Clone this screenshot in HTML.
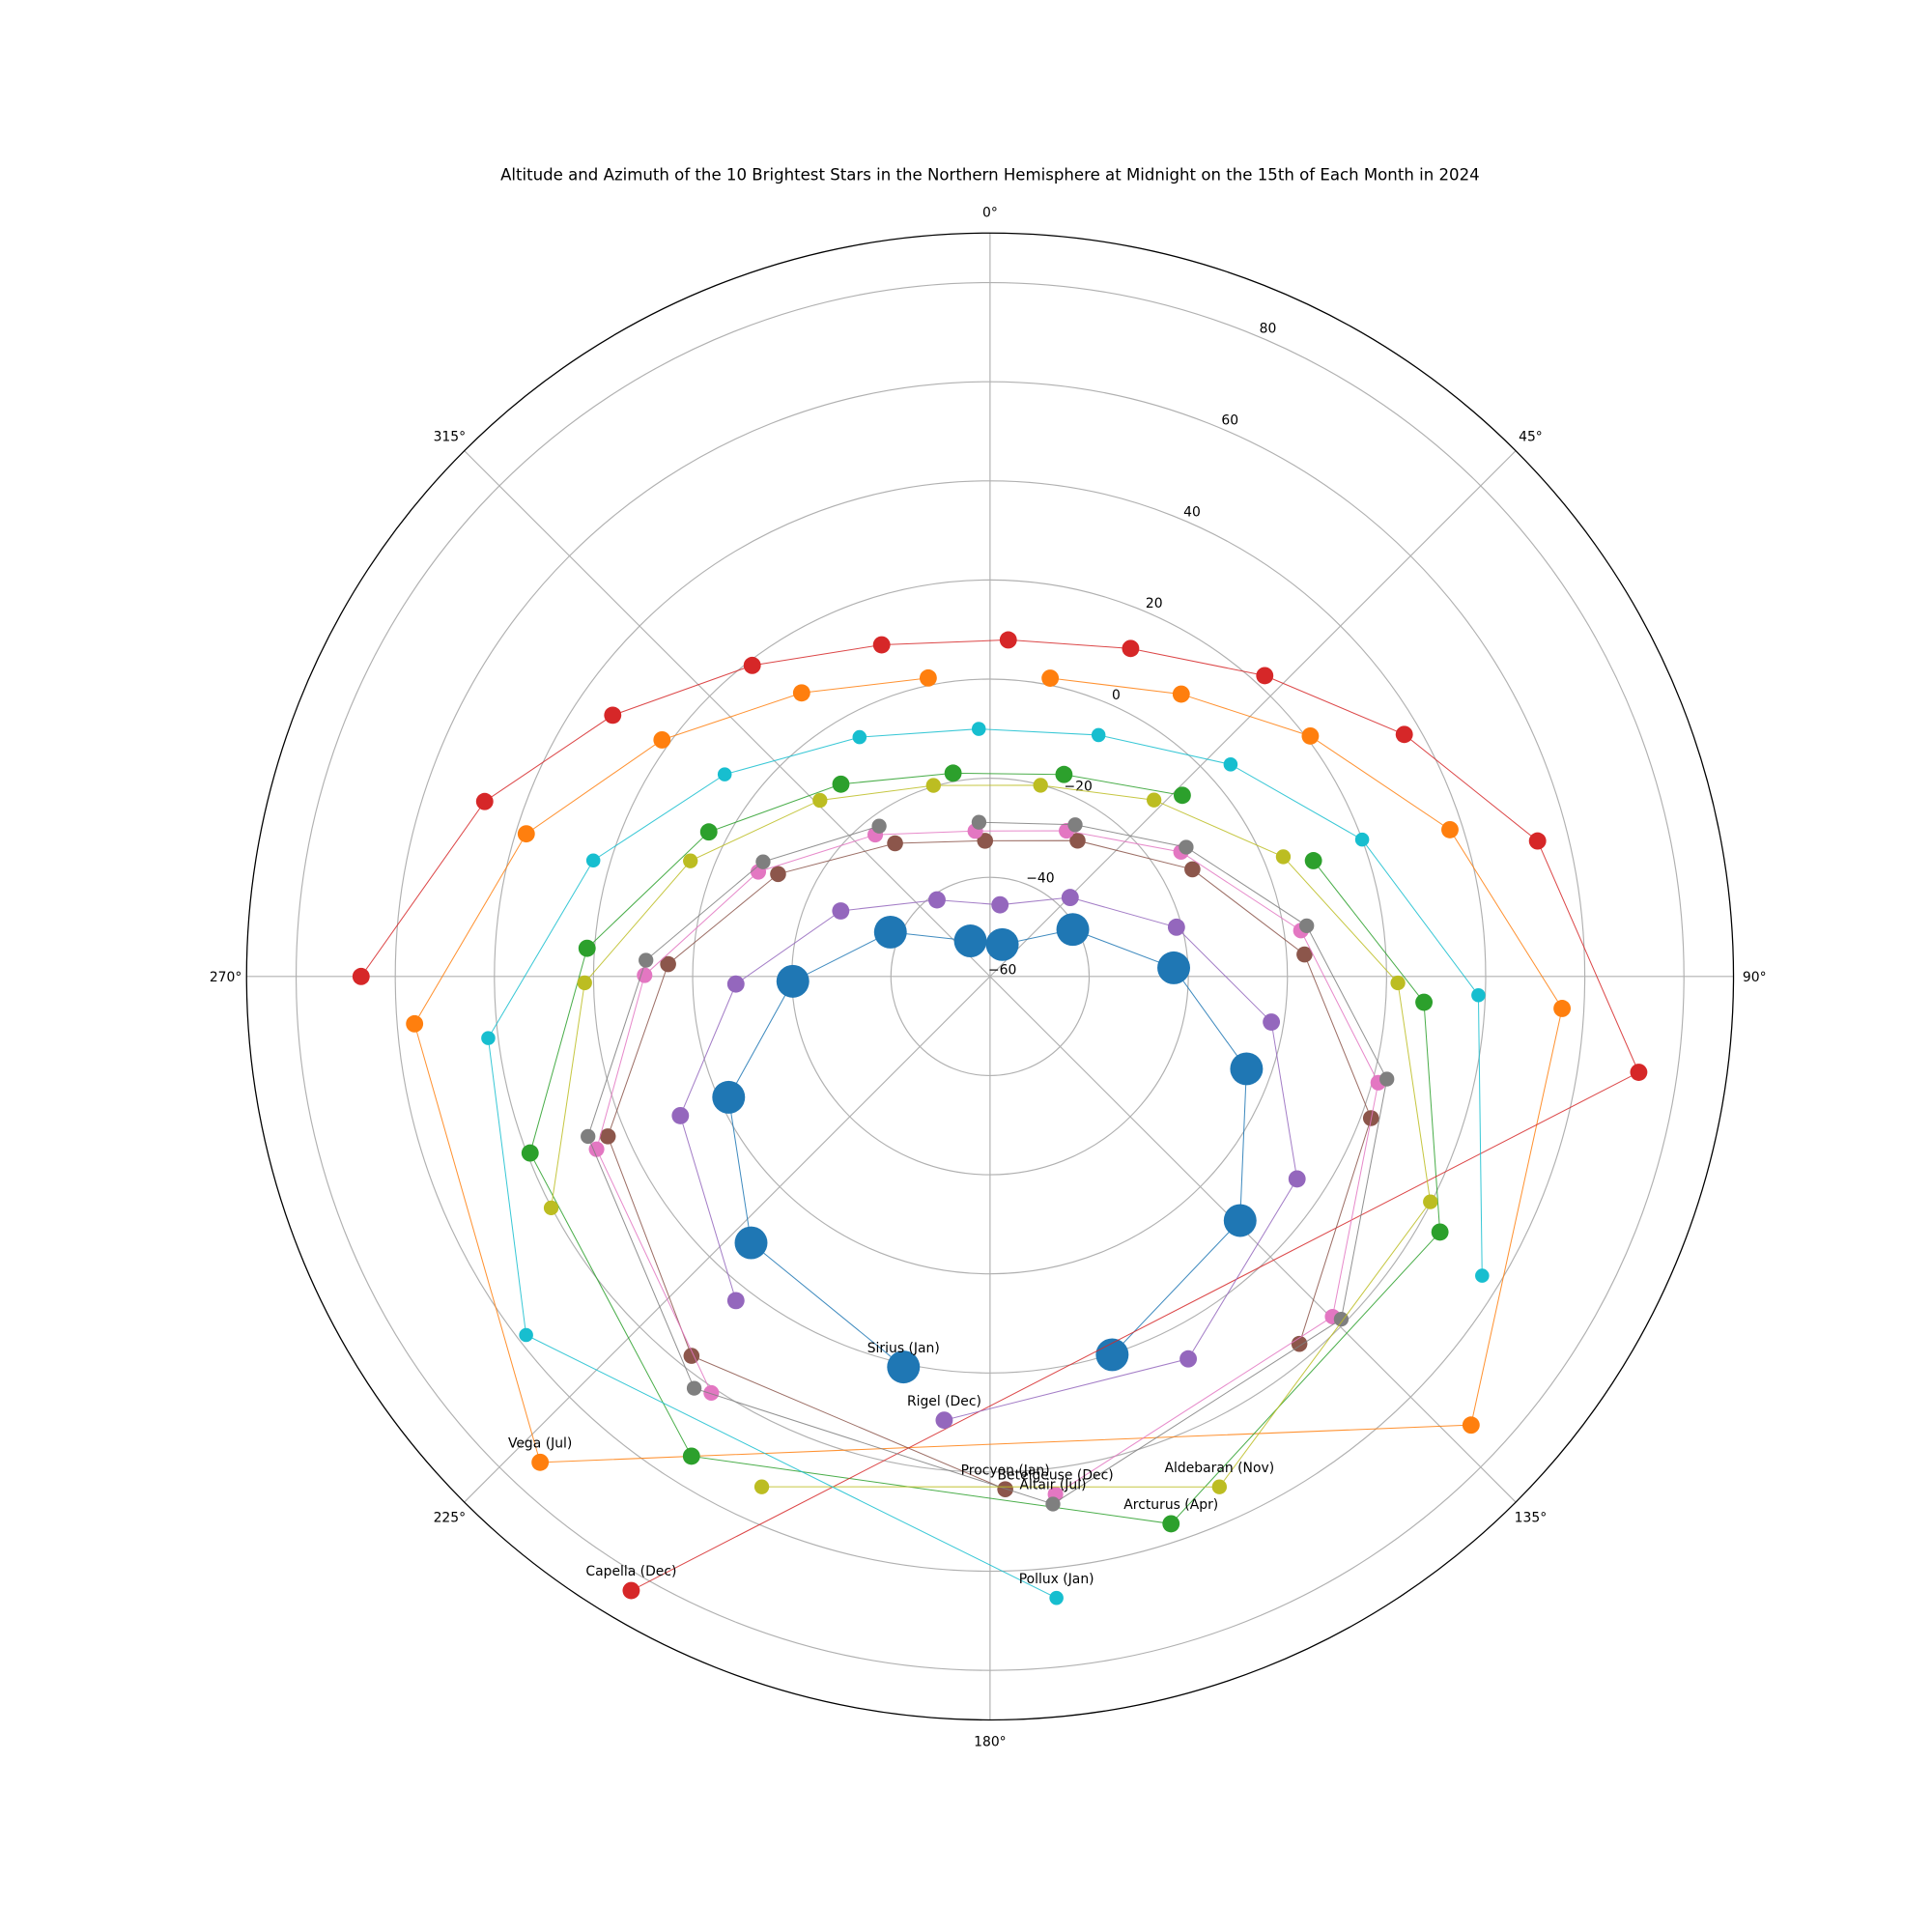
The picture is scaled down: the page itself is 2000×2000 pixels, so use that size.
<!DOCTYPE html>
<html><head><meta charset="utf-8"><style>
html,body{margin:0;padding:0;background:#fff;}
svg{display:block;font-family:"DejaVu Sans","Liberation Sans",sans-serif;}
</style></head><body>
<svg id="chart" width="2000" height="2000" viewBox="0 0 1567 1567" xmlns="http://www.w3.org/2000/svg">
<rect x="0" y="0" width="1567" height="1567" fill="#fff"/>
<text x="803" y="146" font-size="13" text-anchor="middle" fill="#000">Altitude and Azimuth of the 10 Brightest Stars in the Northern Hemisphere at Midnight on the 15th of Each Month in 2024</text>
<g id="grid"></g>
<g id="series"></g>
<g id="labels"></g>
</svg>
<script>
const months = ["Jan","Feb","Mar","Apr","May","Jun","Jul","Aug","Sep","Oct","Nov","Dec"];
const starNames = ["Sirius","Vega","Arcturus","Capella","Rigel","Procyon","Betelgeuse","Altair","Aldebaran","Pollux"];
const starColors = ["#1f77b4","#ff7f0e","#2ca02c","#d62728","#9467bd","#8c564b","#e377c2","#7f7f7f","#bcbd22","#17becf"];
const markerRadius = [13.3,7,7,7,7,6.5,6.3,6,6,5.7];
const labelMonth = [0,6,3,11,11,0,11,6,10,0];

const azSirius = [192.5,221.9,245.2,268.6,294.0,331.1,21.0,60.4,87.3,109.8,134.3,162.1];
const altSirius = [20.7,12.2,-1.9,-20.2,-38.0,-51.8,-53.1,-40.8,-22.9,-5.0,10.5,20.2];
const azVega = [11.4,34.1,53.1,72.3,93.2,133.0,222.8,265.3,287.1,305.8,326.4,348.3];
const altVega = [1.4,8.8,20.8,37.4,55.6,72.7,73.6,56.5,37.9,21.6,8.7,1.5];
const azArcturus = [70.3,93.4,119.6,161.7,211.9,249.0,274.0,297.2,322.2,349.7,20.1,46.7];
const altArcturus = [9.3,27.7,44.4,56.3,54.0,39.4,21.5,3.8,-10.9,-18.3,-16.6,-6.7];
const azCapella = [270.0,289.1,304.7,322.6,341.9,3.1,23.2,42.4,59.7,76.1,98.4,210.3];
const altCapella = [66.9,47.9,32.6,19.0,10.4,8.0,12.0,22.2,36.8,53.8,72.3,83.5];
const azRigel = [218.1,245.8,268.3,293.7,325.3,7.9,45.4,75.2,99.2,123.4,152.6,185.9];
const altRigel = [23.1,8.5,-8.7,-27.1,-41.2,-45.4,-37.3,-21.1,-2.5,14.2,26.9,30.0];
const azProcyon = [178.3,218.2,247.3,272.2,295.8,324.5,357.9,32.8,62.1,86.0,110.4,139.9];
const altProcyon = [43.5,37.4,23.6,5.0,-12.5,-27.0,-32.6,-27.4,-13.8,3.6,22.0,36.9];
const azBetelgeuse = [213.8,246.3,270.2,294.3,321.0,354.2,27.7,56.9,81.6,105.3,134.8,172.8];
const altBetelgeuse = [41.1,26.7,9.7,-8.7,-23.2,-30.5,-26.8,-14.0,3.4,21.2,37.4,45.3];
const azAltair = [355.9,29.3,56.6,80.9,104.5,134.3,173.2,215.7,248.3,272.7,296.8,323.6];
const altAltair = [-28.8,-24.9,-12.6,4.7,22.7,39.0,47.2,42.3,27.3,9.5,-8.7,-22.3];
const azAldebaran = [242.2,269.1,291.1,316.0,343.5,14.8,42.9,67.8,90.9,117.1,155.8,204.1];
const altAldebaran = [40.1,21.8,4.8,-10.6,-19.8,-20.1,-11.4,3.9,22.3,39.8,52.9,52.8];
const azPollux = [173.9,232.3,263.0,286.3,307.3,331.4,357.4,24.2,48.6,69.8,92.2,121.3];
const altPollux = [66.1,58.3,42.0,23.4,7.3,-5.0,-10.0,-6.6,4.7,20.0,38.6,56.2];

const rTicks = [-60,-40,-20,0,20,40,60,80];
const thetaTicks = [0,45,90,135,180,225,270,315];

const allAz = [azSirius,azVega,azArcturus,azCapella,azRigel,azProcyon,azBetelgeuse,azAltair,azAldebaran,azPollux];
const allAlt = [altSirius,altVega,altArcturus,altCapella,altRigel,altProcyon,altBetelgeuse,altAltair,altAldebaran,altPollux];

const CX = 803, CY = 792, RMIN = -60, RMAX = 90, ROUT = 603;
const NS = "http://www.w3.org/2000/svg";
function rScale(v){ return (v - RMIN) / (RMAX - RMIN) * ROUT; }
function px(az, alt){ const a = az*Math.PI/180, r = rScale(alt); return [CX + r*Math.sin(a), CY - r*Math.cos(a)]; }
function mk(tag, attrs){ const e = document.createElementNS(NS, tag); for (const k in attrs) e.setAttribute(k, attrs[k]); return e; }

const grid = document.getElementById('grid');
rTicks.forEach(function(v){
  if (v === RMIN) return;
  const c = mk('circle', {cx:CX, cy:CY, r:rScale(v), fill:'none', stroke:'#b0b0b0', 'stroke-width':0.9});
  
  
  grid.appendChild(c);
});
thetaTicks.forEach(function(t){
  const p = px(t, RMAX);
  const l = mk('line', {x1:CX, y1:CY, x2:p[0], y2:p[1], stroke:'#b0b0b0', 'stroke-width':0.9});
  
  
  grid.appendChild(l);
  const a = t*Math.PI/180;
  const lt = mk('text', {x:CX + 620*Math.sin(a), y:CY - 620*Math.cos(a) + 4, 'font-size':10.9, 'text-anchor':'middle', fill:'#000'});
  lt.textContent = t + '°';
  
  
  grid.appendChild(lt);
});
rTicks.forEach(function(v){
  const p = px(22.5, v);
  const t = mk('text', {x:p[0] + 10, y:p[1] - 6 + 4, 'font-size':10.9, 'text-anchor':'middle', fill:'#000'});
  t.textContent = String(v).replace('-', '\u2212');
  
  
  grid.appendChild(t);
});
const outer = mk('circle', {cx:CX, cy:CY, r:ROUT, fill:'none', stroke:'#000', 'stroke-width':1});


grid.appendChild(outer);

const series = document.getElementById('series');
const labels = document.getElementById('labels');
for (let s = 0; s < starNames.length; s++) {
  const g = mk('g', {});
  
  
  const pts = allAz[s].map(function(az, i){ return px(az, allAlt[s][i]); });
  const pl = mk('polyline', {points: pts.map(function(p){return p[0].toFixed(1)+','+p[1].toFixed(1);}).join(' '), fill:'none', stroke:starColors[s], 'stroke-width':0.8, 'stroke-opacity':0.85});
  
  
  g.appendChild(pl);
  pts.forEach(function(p, i){
    const c = mk('circle', {cx:p[0], cy:p[1], r:markerRadius[s], fill:starColors[s]});
    
    
    g.appendChild(c);
  });
  series.appendChild(g);
  const lp = pts[labelMonth[s]];
  const t = mk('text', {x:lp[0], y:lp[1] - 12, 'font-size':10.9, 'text-anchor':'middle', fill:'#000'});
  t.textContent = starNames[s] + ' (' + months[labelMonth[s]] + ')';
  
  
  labels.appendChild(t);
}
</script>
</body></html>
